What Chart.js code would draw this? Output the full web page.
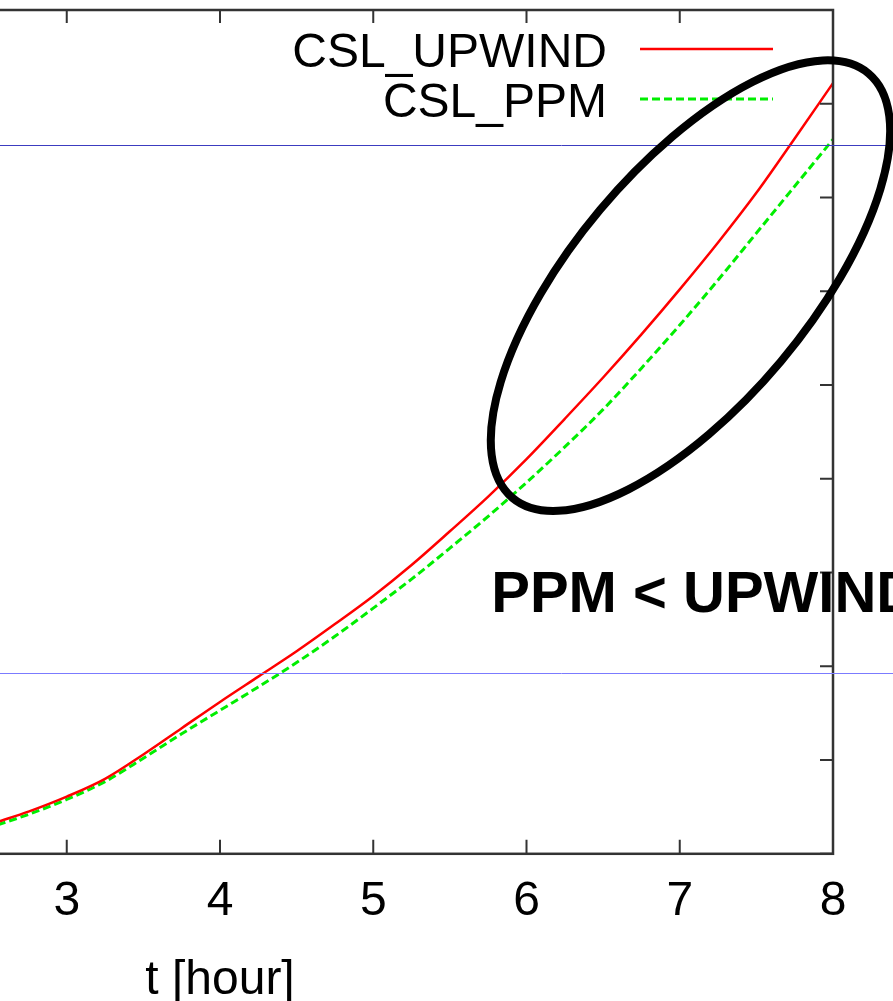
<!DOCTYPE html>
<html>
<head>
<meta charset="utf-8">
<script src="https://cdn.jsdelivr.net/npm/chart.js@4.4.1/dist/chart.umd.min.js"></script>
<style>
  html, body { margin: 0; padding: 0; background: #fff; overflow: hidden; width: 893px; height: 1001px; }
  #marco { position: absolute; left: -433px; top: 0; width: 1326px; height: 1013px; }
</style>
</head>
<body>
<div id="marco"><canvas id="grafico"></canvas></div>
<script>
/* Tiempo en horas (solo la parte visible de la figura) */
var horas = [2.55, 2.75, 3, 3.25, 3.5, 3.75, 4, 4.25, 4.5, 4.75, 5, 5.25, 5.5, 5.75, 6, 6.25, 6.5, 6.75, 7, 7.25, 7.5, 7.75, 8];

/* Valores (unidades de marca del eje y) */
var cslUpwind = [0.34, 0.45, 0.61, 0.80, 1.06, 1.34, 1.62, 1.89, 2.16, 2.45, 2.75, 3.08, 3.44, 3.81, 4.21, 4.64, 5.08, 5.54, 6.02, 6.52, 7.05, 7.63, 8.22];
var cslPpm    = [0.31, 0.42, 0.58, 0.77, 1.02, 1.28, 1.53, 1.78, 2.04, 2.32, 2.62, 2.93, 3.26, 3.60, 3.96, 4.34, 4.74, 5.18, 5.64, 6.12, 6.62, 7.12, 7.62];

/* Ejes */
var xMin = 0, xMax = 8;
var yMin = 0, yMax = 9;

/* Anotaciones añadidas encima del grafico */
var lineasAzules = [7.56, 1.93];
var elipse = { t: 7.07, v: 6.06 };
var nota = { t: 5.77, v: 2.58, texto: 'PPM < UPWIND' };

var fuente = "'Liberation Sans', Arial, Helvetica, sans-serif";

function puntos(xs, ys) {
    return xs.map(function (x, i) { return { x: x, y: ys[i] }; });
}

var adornos = {
    id: 'adornos',
    afterDatasetsDraw: function (chart) {
        var ctx = chart.ctx;
        var a = chart.chartArea;
        var sx = chart.scales.x;
        var sy = chart.scales.y;
        ctx.save();

        // marco del grafico
        ctx.strokeStyle = '#333';
        ctx.lineWidth = 2.5;
        ctx.strokeRect(a.left, a.top, a.right - a.left, a.bottom - a.top);

        // marcas hacia dentro (estilo gnuplot)
        ctx.lineWidth = 2;
        ctx.beginPath();
        sx.ticks.forEach(function (t) {
            var px = sx.getPixelForValue(t.value);
            ctx.moveTo(px, a.bottom); ctx.lineTo(px, a.bottom - 14);
            ctx.moveTo(px, a.top); ctx.lineTo(px, a.top + 13);
        });
        sy.ticks.forEach(function (t) {
            var py = sy.getPixelForValue(t.value);
            ctx.moveTo(a.right, py); ctx.lineTo(a.right - 13, py);
            ctx.moveTo(a.left, py); ctx.lineTo(a.left + 13, py);
        });
        ctx.stroke();

        // leyenda
        ctx.font = '48px ' + fuente;
        ctx.textAlign = 'right';
        ctx.textBaseline = 'alphabetic';
        chart.data.datasets.forEach(function (ds, i) {
            var base = a.top + 57 + i * 50;
            ctx.fillStyle = '#000';
            ctx.fillText(ds.label, a.right - 226, base);
            ctx.strokeStyle = ds.borderColor;
            ctx.lineWidth = ds.borderWidth;
            ctx.setLineDash(ds.borderDash || []);
            ctx.beginPath();
            ctx.moveTo(a.right - 193, base - 18);
            ctx.lineTo(a.right - 60, base - 18);
            ctx.stroke();
        });
        ctx.setLineDash([]);

        // lineas horizontales azules (todo el ancho)
        ctx.lineWidth = 1;
        ctx.strokeStyle = '#3c3cc0';
        var y1 = Math.round(sy.getPixelForValue(lineasAzules[0])) + 0.5;
        ctx.beginPath(); ctx.moveTo(0, y1); ctx.lineTo(chart.width, y1); ctx.stroke();
        ctx.strokeStyle = '#7b7bff';
        var y2 = Math.round(sy.getPixelForValue(lineasAzules[1])) + 0.5;
        ctx.beginPath(); ctx.moveTo(0, y2); ctx.lineTo(chart.width, y2); ctx.stroke();

        // elipse
        ctx.strokeStyle = '#000';
        ctx.lineWidth = 8;
        ctx.beginPath();
        ctx.ellipse(sx.getPixelForValue(elipse.t), sy.getPixelForValue(elipse.v), 277, 118, -50 * Math.PI / 180, 0, Math.PI * 2);
        ctx.stroke();

        // texto
        ctx.fillStyle = '#000';
        ctx.font = 'bold 58px ' + fuente;
        ctx.textAlign = 'left';
        ctx.fillText(nota.texto, sx.getPixelForValue(nota.t), sy.getPixelForValue(nota.v));

        ctx.restore();
    }
};

var marco = document.getElementById('grafico').getContext('2d');

var grafico = new Chart(marco, {
    type: 'line',
    data: {
        datasets: [{
            label: 'CSL_UPWIND',
            data: puntos(horas, cslUpwind),
            borderColor: '#ff0000',
            borderWidth: 2.5,
            pointRadius: 0,
            cubicInterpolationMode: 'monotone',
            fill: false
        },
        {
            label: 'CSL_PPM',
            data: puntos(horas, cslPpm),
            borderColor: '#00ee00',
            borderWidth: 3,
            borderDash: [8, 4],
            pointRadius: 0,
            cubicInterpolationMode: 'monotone',
            fill: false
        }]
    },
    options: {
        responsive: true,
        maintainAspectRatio: false,
        animation: false,
        layout: { padding: { left: 40, right: 60, top: 10, bottom: 0 } },
        plugins: {
            legend: { display: false },
            tooltip: { enabled: false }
        },
        scales: {
            x: {
                type: 'linear',
                min: xMin,
                max: xMax,
                grid: { display: false, drawTicks: false },
                border: { display: false },
                ticks: {
                    stepSize: 1,
                    maxRotation: 0,
                    padding: 19,
                    color: '#000',
                    font: { size: 48, family: fuente }
                },
                title: {
                    display: true,
                    text: 't [hour]',
                    color: '#000',
                    padding: { top: 3, bottom: 3 },
                    font: { size: 48, family: fuente }
                }
            },
            y: {
                min: yMin,
                max: yMax,
                grid: { display: false, drawTicks: false },
                border: { display: false },
                ticks: { display: false, stepSize: 1 }
            }
        }
    },
    plugins: [adornos]
});
</script>
</body>
</html>
